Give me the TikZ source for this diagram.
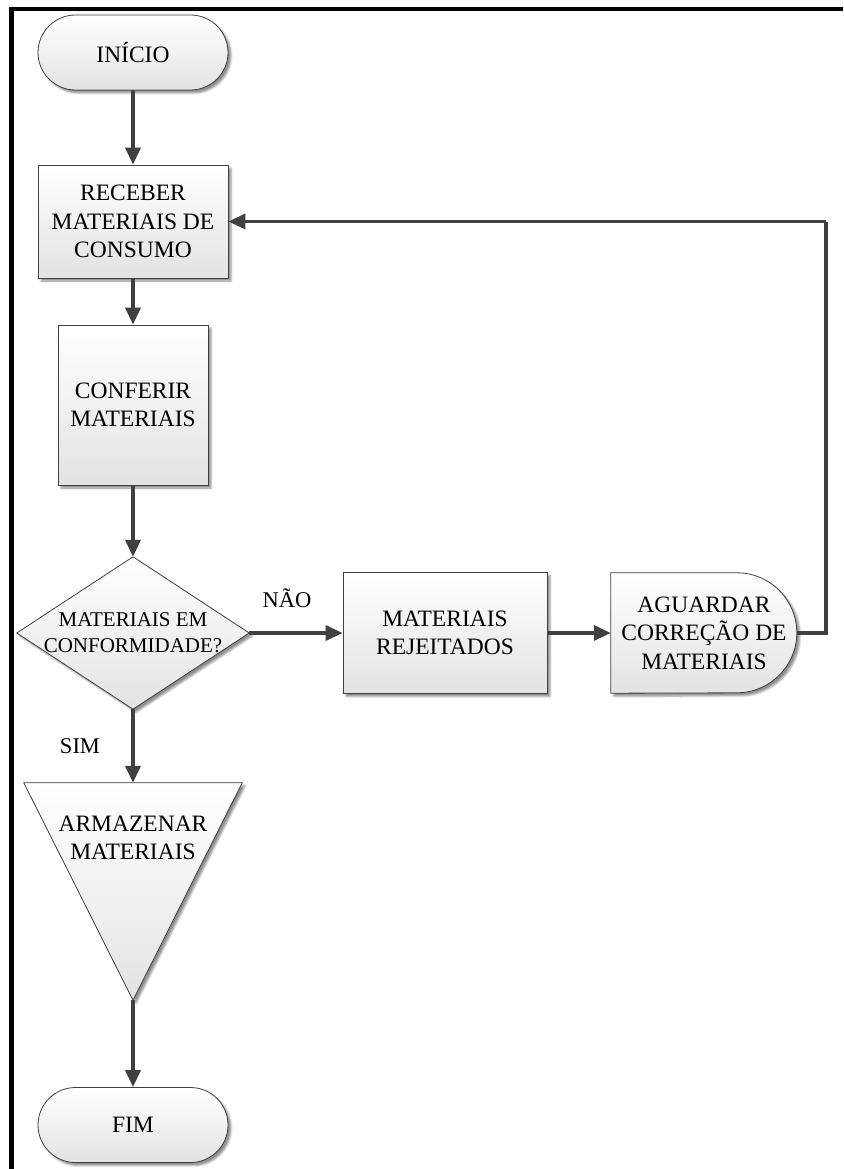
\documentclass[tikz,border=0pt]{standalone}
\usepackage{fontspec}
\setmainfont{Liberation Serif}
\usetikzlibrary{arrows.meta,shapes.misc,shadows.blur,backgrounds}

\definecolor{linegray}{HTML}{404040}

\tikzset{
  shapefill/.style={top color=white, bottom color=black!11,
    draw=linegray, line width=0.8pt,
    blur shadow={shadow xshift=3pt, shadow yshift=-3pt,
      shadow blur radius=2pt, shadow opacity=45}},
  boxtext/.style={font=\fontsize{23.5}{28.5}\selectfont, align=center},
  terminal/.style={shapefill, boxtext, rounded rectangle, inner sep=0pt,
    minimum width=190pt, minimum height=75pt},
  process/.style={shapefill, boxtext, rectangle, inner sep=0pt},
  frame/.style={boxtext, rectangle, inner sep=0pt},
  flow/.style={draw=linegray, line width=3.6pt,
    -{Triangle[length=17pt,width=15pt]}},
  flowline/.style={draw=linegray, line width=3.6pt},
  branch/.style={font=\fontsize{22.5}{26}\selectfont}
}

\begin{document}
\begin{tikzpicture}[x=1pt,y=-1pt]
\useasboundingbox (0,0) rectangle (843,1169);

% border strokes along the top and the left edge
\fill[black] (9,7) rectangle (843,11.5);
\fill[black] (9,7) rectangle (14,1169);

% nodes
\node[terminal] (start) at (133,52.5) {INÍCIO};
\node[process, minimum width=190pt, minimum height=113pt] (recv) at (133,221.5)
  {RECEBER\\MATERIAIS DE\\CONSUMO};
\node[process, minimum width=150pt, minimum height=160pt] (check) at (133,405)
  {CONFERIR\\MATERIAIS};
\node[frame, minimum width=232pt, minimum height=152pt,
  font=\fontsize{21}{26}\selectfont] (dec) at (133,633)
  {MATERIAIS EM\\CONFORMIDADE?};
\node[process, minimum width=204pt, minimum height=121pt] (rej) at (445,633)
  {MATERIAIS\\REJEITADOS};
\node[frame, minimum width=186pt, minimum height=120pt] (wait) at (704,633)
  {AGUARDAR\\CORREÇÃO DE\\MATERIAIS};
\node[frame, minimum width=218pt, minimum height=217pt] (store) at (133,891.5) {};
\node[boxtext] (storetxt) at (133,838) {ARMAZENAR\\MATERIAIS};
\node[terminal] (stop) at (133,1125) {FIM};

% outlines of the decision, delay and storage symbols
\begin{pgfonlayer}{background}
  \path[shapefill] (dec.north) -- (dec.east) -- (dec.south) -- (dec.west) -- cycle;
  \path[shapefill] (wait.north west) -- ++(126,0)
    arc[start angle=-90, end angle=90, radius=60] -- (wait.south west) -- cycle;
  \path[shapefill] (store.north west) -- (store.north east) -- (store.south) -- cycle;
\end{pgfonlayer}

% branch labels
\node[branch] (no) at (287,598) {NÃO};
\node[branch] (yes) at (80,746) {SIM};

% connectors
\coordinate (corner) at (826,221.5);
\path[flow] (start) -- (recv);
\path[flow] (recv) -- (check);
\path[flow] (check) -- (dec.north);
\path[flow] (dec.east) -- (rej.west);
\path[flow] (rej) -- (wait.west);
\path[flowline] (wait.east) -| (corner);
\path[flow] (corner) -- (recv.east);
\path[flow] (dec.south) -- (store.north);
\path[flow] (store.south) -- (stop);
\end{tikzpicture}
\end{document}
